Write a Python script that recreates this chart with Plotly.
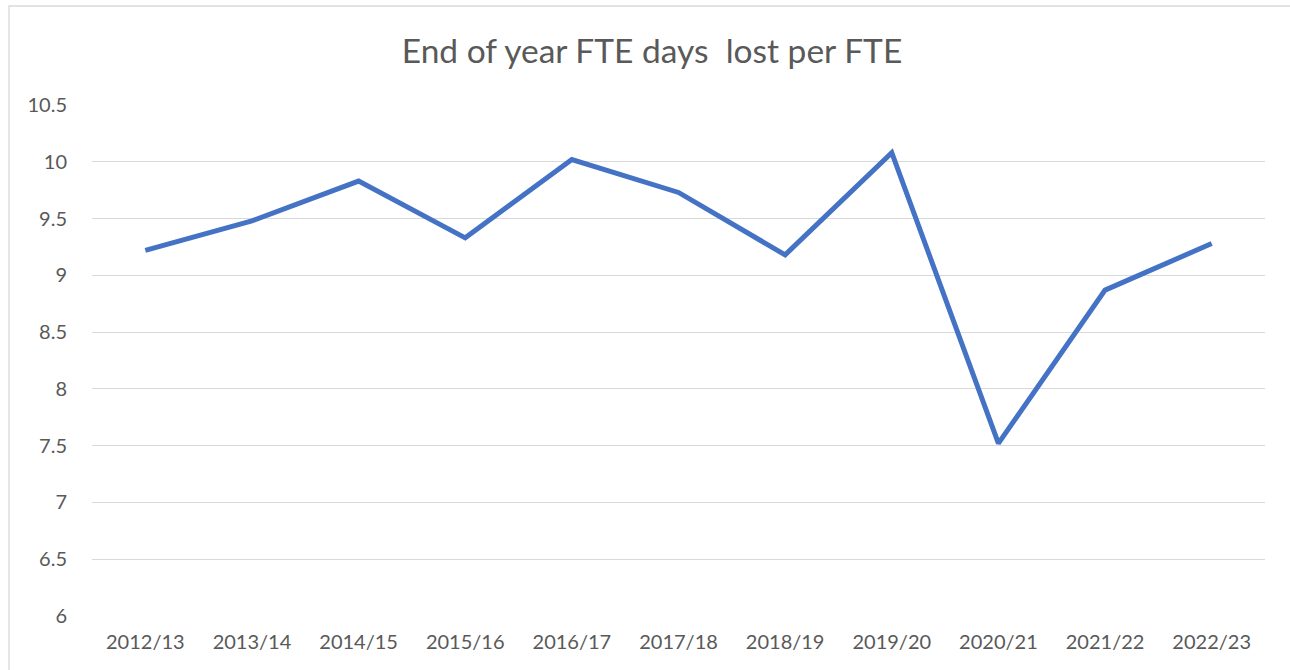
import plotly.graph_objects as go

categories = ["2012/13", "2013/14", "2014/15", "2015/16", "2016/17", "2017/18",
              "2018/19", "2019/20", "2020/21", "2021/22", "2022/23"]
values = [9.22, 9.48, 9.83, 9.33, 10.02, 9.73, 9.18, 10.08, 7.52, 8.87, 9.28]
y_ticks = [6, 6.5, 7, 7.5, 8, 8.5, 9, 9.5, 10, 10.5]
title_text = "End of year FTE days\u00a0 lost per FTE"

W, H = 1290, 670
L, R, T, B = 92, 25, 105, 54
pw, ph = W - L - R, H - T - B

fig = go.Figure()
fig.add_trace(go.Scatter(
    x=categories, y=values, mode="lines",
    line=dict(color="#4472C4", width=5),
    hoverinfo="x+y", showlegend=False,
))

font_family = "Lato, 'Open Sans', sans-serif"
fig.update_layout(
    width=W, height=H,
    margin=dict(l=L, r=R, t=T, b=B),
    paper_bgcolor="white", plot_bgcolor="white",
    title=dict(text=title_text, x=(652 - L) / pw, xref="paper", xanchor="center",
               y=1 - 51 / H, yanchor="middle",
               font=dict(family=font_family, size=33.5, color="#595959")),
    xaxis=dict(type="category", range=[-0.5, len(categories) - 0.5],
               showgrid=False, zeroline=False, showline=False, ticks="",
               ticklabelstandoff=12,
               tickfont=dict(family=font_family, size=20, color="#595959")),
    yaxis=dict(range=[6, 10.5], tickvals=y_ticks,
               ticktext=[f"{v:g}" for v in y_ticks],
               showgrid=True, gridcolor="#D9D9D9", gridwidth=1.3,
               zeroline=False, showline=False, ticks="", ticklabelstandoff=24,
               tickfont=dict(family=font_family, size=20, color="#595959")),
    shapes=[dict(type="rect", xref="paper", yref="paper",
                 x0=(9 - L) / pw, x1=(1310 - L) / pw,
                 y0=-0.3, y1=(H - B - 6) / ph,
                 line=dict(color="#D9D9D9", width=1.3), layer="below")],
)

fig.write_html("out.html", config={"displayModeBar": False},
               post_script="document.body.style.margin='0px';document.body.style.overflow='hidden';")
